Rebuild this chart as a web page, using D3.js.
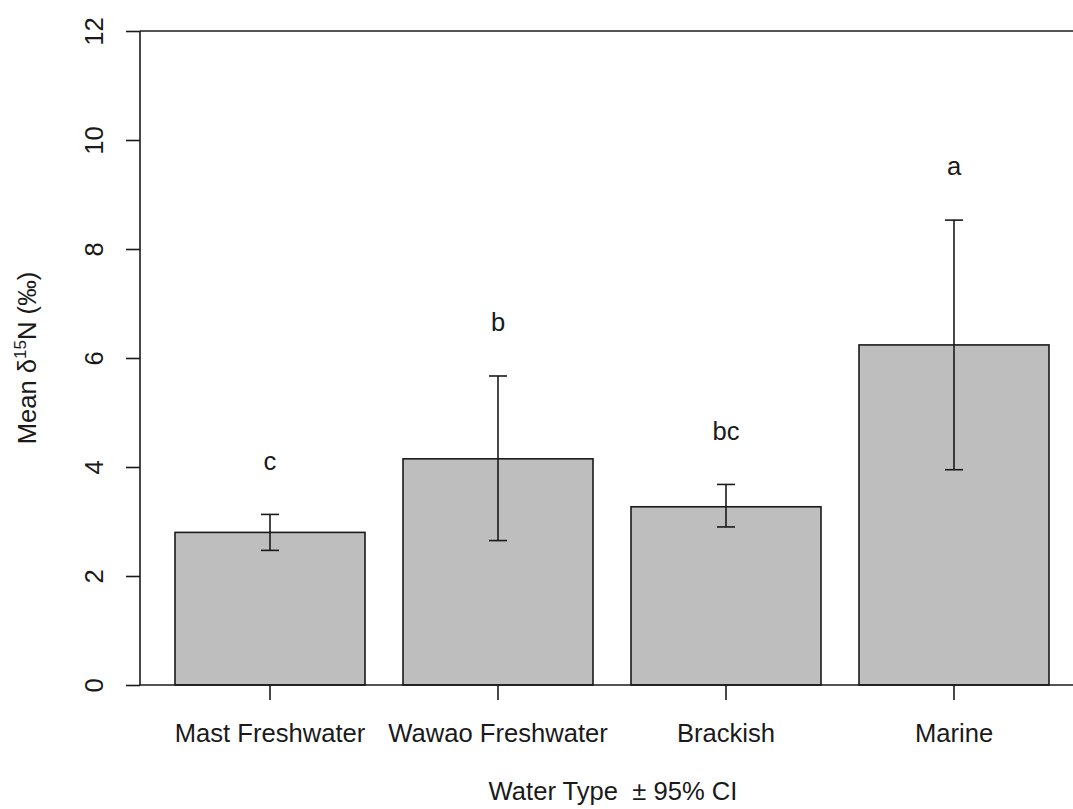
<!DOCTYPE html>
<html>
<head>
<meta charset="utf-8">
<script src="https://cdn.jsdelivr.net/npm/d3@7"></script>
<style>
  html, body { margin: 0; padding: 0; background: #fff; }
  svg { display: block; font-family: "Liberation Sans", Arial, sans-serif; }
</style>
</head>
<body>
<svg id="chart" width="1073" height="809"></svg>
<script>
// Mean δ15N by water type with 95% confidence intervals
const categories = ["Mast Freshwater", "Wawao Freshwater", "Brackish", "Marine"];
const means = [2.80, 4.15, 3.27, 6.24];
const ciLower = [2.47, 2.65, 2.90, 3.95];
const ciUpper = [3.13, 5.67, 3.68, 8.53];
const groupLetters = ["c", "b", "bc", "a"];
const yTicks = [0, 2, 4, 6, 8, 10, 12];

const svg = d3.select("#chart");
const W = 1073;
const ink = "#1a1a1a";
const fontSize = 25.6;

const y = d3.scaleLinear().domain([0, 12]).range([685, 31]);
const x = d3.scaleBand()
  .domain(categories)
  .range([175, 1049])
  .paddingInner(38 / 228)
  .paddingOuter(0);

const rows = categories.map((c, i) => ({
  cat: c, mean: means[i], lo: ciLower[i], hi: ciUpper[i], letter: groupLetters[i]
}));

// Bars
svg.append("g").selectAll("rect")
  .data(rows)
  .join("rect")
  .attr("x", d => x(d.cat))
  .attr("y", d => y(d.mean))
  .attr("width", x.bandwidth())
  .attr("height", d => y(0) - y(d.mean))
  .attr("fill", "#bebebe")
  .attr("stroke", ink)
  .attr("stroke-width", 1.6);

// Frame lines: top, left and baseline
const frame = svg.append("g").attr("stroke", ink).attr("stroke-width", 1.6).attr("fill", "none");
frame.append("line").attr("x1", 140).attr("x2", W).attr("y1", y(12)).attr("y2", y(12));
frame.append("line").attr("x1", 140).attr("x2", 140).attr("y1", y(12)).attr("y2", y(0));
frame.append("line").attr("x1", 140).attr("x2", W).attr("y1", y(0)).attr("y2", y(0));

// Y axis (ticks to the left, labels rotated)
const yAxis = d3.axisLeft(y).tickValues(yTicks).tickSize(14).tickFormat(d3.format("d"));
const gy = svg.append("g").attr("transform", "translate(140,0)").call(yAxis);
gy.select(".domain").remove();
gy.selectAll(".tick line").attr("stroke", ink).attr("stroke-width", 1.6);
gy.selectAll(".tick text")
  .attr("x", null).attr("dy", null)
  .attr("transform", "translate(-37,0) rotate(-90)")
  .attr("text-anchor", "middle")
  .attr("font-size", fontSize)
  .attr("font-family", "Liberation Sans, Arial, sans-serif")
  .attr("fill", ink);

// X axis (ticks below the baseline at band centres)
const xAxis = d3.axisBottom(x).tickSize(15).tickPadding(0);
const gx = svg.append("g").attr("transform", `translate(0,${y(0)})`).call(xAxis);
gx.select(".domain").remove();
gx.selectAll(".tick line").attr("stroke", ink).attr("stroke-width", 1.6);
gx.selectAll(".tick text")
  .attr("y", 57).attr("dy", null)
  .attr("font-size", fontSize)
  .attr("font-family", "Liberation Sans, Arial, sans-serif")
  .attr("fill", ink);

// Error bars
const cx = d => x(d.cat) + x.bandwidth() / 2;
const cap = 9;
const eb = svg.append("g").attr("stroke", ink).attr("stroke-width", 1.6);
eb.selectAll(".stem").data(rows).join("line")
  .attr("x1", cx).attr("x2", cx)
  .attr("y1", d => y(d.lo)).attr("y2", d => y(d.hi));
eb.selectAll(".capHi").data(rows).join("line")
  .attr("x1", d => cx(d) - cap).attr("x2", d => cx(d) + cap)
  .attr("y1", d => y(d.hi)).attr("y2", d => y(d.hi));
eb.selectAll(".capLo").data(rows).join("line")
  .attr("x1", d => cx(d) - cap).attr("x2", d => cx(d) + cap)
  .attr("y1", d => y(d.lo)).attr("y2", d => y(d.lo));

// Significance letters above the upper CI
svg.append("g").selectAll("text").data(rows).join("text")
  .attr("x", cx)
  .attr("y", d => y(d.hi + 0.82))
  .attr("text-anchor", "middle")
  .attr("font-size", fontSize)
  .attr("fill", ink)
  .text(d => d.letter);

// Axis titles
const yl = svg.append("text")
  .attr("transform", `translate(36,${(y(0) + y(12)) / 2}) rotate(-90)`)
  .attr("text-anchor", "middle")
  .attr("font-size", fontSize)
  .attr("fill", ink);
yl.append("tspan").text("Mean δ");
yl.append("tspan").attr("font-size", 17).attr("dy", -10).text("15");
yl.append("tspan").attr("dy", 10).text("N (‰)");

svg.append("text")
  .attr("x", 613)
  .attr("y", 800)
  .attr("text-anchor", "middle")
  .attr("font-size", fontSize)
  .attr("fill", ink)
  .attr("xml:space", "preserve")
  .text("Water Type  ± 95% CI");
</script>
</body>
</html>
